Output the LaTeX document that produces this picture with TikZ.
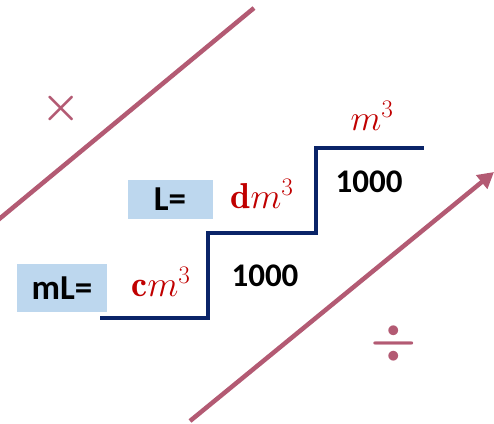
\RequirePackage{fix-cm}
\documentclass[tikz,border=0pt]{standalone}
\usepackage{fontspec}
\setsansfont{Carlito}
\usepackage{xcolor}
\usepackage{amsmath}
\usepackage{tikz}
\usetikzlibrary{positioning, arrows.meta}

\definecolor{mauve}{HTML}{B35A73}
\definecolor{unitred}{HTML}{C00000}
\definecolor{stairblue}{HTML}{0A2468}
\definecolor{boxblue}{HTML}{BDD7EE}

\begin{document}
\begin{tikzpicture}[
    x=1pt, y=-1pt,
    every node/.style={inner sep=0pt, align=center},
    namebox/.style={fill=boxblue, font=\sffamily\bfseries\fontsize{35}{35}\selectfont},
    factor/.style={font=\sffamily\bfseries\fontsize{33}{33}\selectfont},
    unit/.style={text=unitred, font=\fontsize{36}{36}\selectfont},
    slope/.style={draw=mauve, line width=4.5pt},
    stair/.style={draw=stairblue, line width=3.5pt, line join=miter}
]
\useasboundingbox (0,0) rectangle (494,423);

% unit names
\node[namebox, minimum width=90pt, minimum height=48pt] (ml) at (62,288) {mL=};
\node[namebox, minimum width=85pt, minimum height=39pt] (l) at (170,199.5) {L=};

% units on the stairs
\node[unit] (cm) at (161,282) {$\mathbf{c}m^3$};
\node[unit] (dm) at (262,194) {$\mathbf{d}m^3$};
\node[unit] (m) at (372,116) {$m^3$};

% factors
\node[factor] (f1) at (265,276) {1000};
\node[factor] (f2) at (369,182) {1000};

% stairs
\coordinate (s0) at (100,318);
\coordinate (s1) at (208,318);
\coordinate (s2) at (208,233);
\coordinate (s3) at (316,233);
\coordinate (s4) at (316,148);
\coordinate (s5) at (424,148);
\draw[stair] (s0) -- (s1) -- (s2) -- (s3) -- (s4) -- (s5);

% multiply / divide directions
\coordinate (up1) at (-2,220);
\coordinate (up2) at (254,8);
\draw[slope] (up1) -- (up2);
\node[text=mauve, font=\fontsize{44}{44}\selectfont] (times) at (61,108) {$\boldsymbol{\times}$};

\coordinate (dn1) at (190,421);
\coordinate (dn2) at (494,172);
\draw[slope, -{Triangle[length=16pt, width=17pt]}] (dn1) -- (dn2);
\node[text=mauve, font=\fontsize{52}{52}\selectfont] (divide) at (394,343) {$\boldsymbol{\div}$};
\end{tikzpicture}
\end{document}
